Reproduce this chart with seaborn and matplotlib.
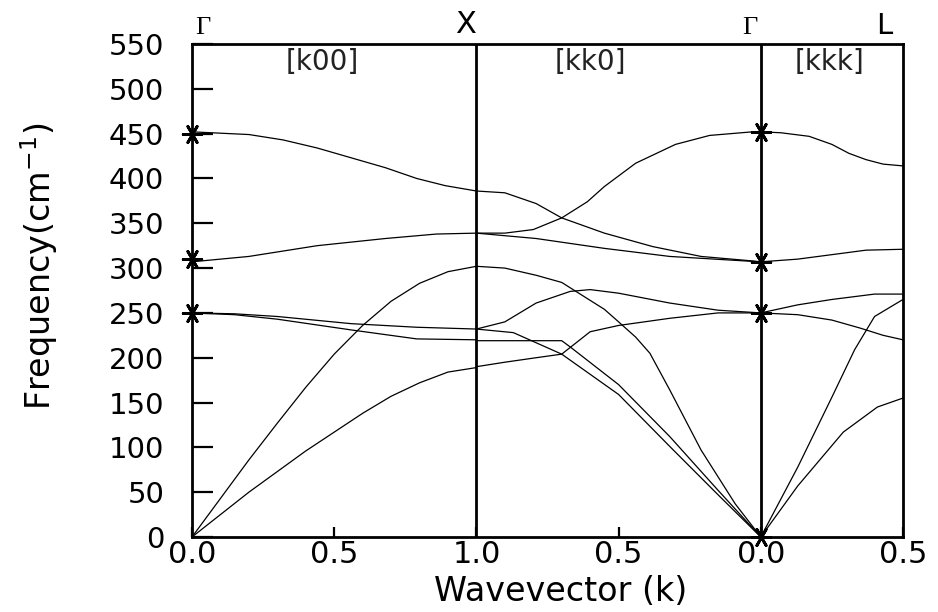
import numpy as np
import pandas as pd
import matplotlib
matplotlib.use("Agg")
import matplotlib.pyplot as plt
import matplotlib.transforms as mtransforms
import seaborn as sns

# ---------------- data ----------------
# Panel 1: Gamma -> X, direction [k00], k from 0 to 1
p1_A_k = [0.0, 0.20, 0.32, 0.44, 0.56, 0.68, 0.79, 0.89, 1.0]
p1_A_f = [452, 449, 443, 434, 423, 412, 400, 392, 386]
p1_B_k = [0.0, 0.20, 0.44, 0.68, 0.86, 1.0]
p1_B_f = [307, 313, 325, 333, 338, 339]
p1_LA_k = [0.0, 0.1, 0.2, 0.3, 0.4, 0.5, 0.6, 0.7, 0.8, 0.9, 1.0]
p1_LA_f = [0, 43, 86, 127, 167, 204, 236, 263, 283, 296, 302]
p1_Cu_k = [0.0, 0.15, 0.30, 0.56, 0.79, 1.0]
p1_Cu_f = [250, 249, 246, 238, 234, 232]
p1_Cl_k = [0.0, 0.15, 0.30, 0.56, 0.79, 1.0]
p1_Cl_f = [250, 248, 243, 231, 221, 220]
p1_TA_k = [0.0, 0.1, 0.2, 0.3, 0.4, 0.5, 0.6, 0.7, 0.8, 0.9, 1.0]
p1_TA_f = [0, 25, 50, 73, 96, 117, 138, 157, 172, 184, 189]

# Panel 2: X -> Gamma, direction [kk0], k from 1 to 0
p2_1_k = [1.0, 0.9, 0.79, 0.70, 0.55, 0.38, 0.21, 0.03, 0.0]
p2_1_f = [386, 384, 372, 356, 339, 324, 313, 308, 307]
p2_2_k = [1.0, 0.9, 0.8, 0.7, 0.61, 0.55, 0.44, 0.30, 0.18, 0.03, 0.0]
p2_2_f = [339, 339, 343, 356, 374, 391, 417, 438, 448, 452, 452]
p2_3_k = [1.0, 0.79, 0.55, 0.32, 0.03, 0.0]
p2_3_f = [339, 333, 322, 313, 307.5, 307]
p2_4_k = [1.0, 0.9, 0.79, 0.70, 0.65, 0.55, 0.50, 0.44, 0.39, 0.32, 0.21, 0.09, 0.0]
p2_4_f = [302, 300, 292, 284, 274, 254, 240, 223, 205, 164, 97, 37, 0]
p2_5_k = [1.0, 0.9, 0.79, 0.67, 0.60, 0.50, 0.32, 0.15, 0.0]
p2_5_f = [232, 240, 261, 274, 276, 272, 261, 253, 250]
p2_6_k = [1.0, 0.87, 0.70, 0.50, 0.32, 0.15, 0.0]
p2_6_f = [232, 228, 204, 159, 101, 47, 0]
p2_7_k = [1.0, 0.70, 0.67, 0.50, 0.32, 0.15, 0.0]
p2_7_f = [219, 219, 212, 170, 112, 52, 0]
p2_8_k = [1.0, 0.9, 0.79, 0.70, 0.60, 0.50, 0.32, 0.15, 0.0]
p2_8_f = [190, 195, 200, 204, 229, 236, 244, 250, 250]

# Panel 3: Gamma -> L, direction [kkk], k from 0 to 0.5
p3_1_k = [0.0, 0.07, 0.17, 0.25, 0.31, 0.37, 0.43, 0.5]
p3_1_f = [452, 451, 447, 438, 428, 421, 416, 414]
p3_2_k = [0.0, 0.13, 0.25, 0.37, 0.5]
p3_2_f = [307, 310, 315, 320, 321]
p3_3_k = [0.0, 0.13, 0.25, 0.40, 0.5]
p3_3_f = [250, 259, 265, 271, 271]
p3_4_k = [0.0, 0.13, 0.25, 0.35, 0.43, 0.5]
p3_4_f = [250, 248, 242, 233, 225, 220]
p3_5_k = [0.0, 0.13, 0.25, 0.33, 0.40, 0.5]
p3_5_f = [0, 78, 156, 209, 246, 265]
p3_6_k = [0.0, 0.13, 0.29, 0.41, 0.5]
p3_6_f = [0, 57, 117, 145, 155]

# Experimental points (stars) at the zone centre
star_panel = ["k00", "k00", "k00", "kk0", "kk0", "kk0", "kk0"]
star_k = [0.0, 0.0, 0.0, 0.0, 0.0, 0.0, 0.0]
star_f = [450, 310, 250, 452, 307, 250, 0]

# Axis labelling
tick_pos = [0.0, 0.5, 1.0, 1.5, 2.0, 2.5]
tick_labels = ["0.0", "0.5", "1.0", "0.5", "0.0", "0.5"]
point_labels = ["\u0393", "X", "\u0393", "L"]
direction_labels = ["[k00]", "[kk0]", "[kkk]"]

# ---------------- build long table ----------------
def to_path(panel, k):
    k = np.asarray(k, dtype=float)
    if panel == "k00":
        return k
    if panel == "kk0":
        return 2.0 - k
    return 2.0 + k

branches = [
    ("k00", "A", p1_A_k, p1_A_f), ("k00", "B", p1_B_k, p1_B_f),
    ("k00", "LA", p1_LA_k, p1_LA_f), ("k00", "Cu", p1_Cu_k, p1_Cu_f),
    ("k00", "Cl", p1_Cl_k, p1_Cl_f), ("k00", "TA", p1_TA_k, p1_TA_f),
    ("kk0", "1", p2_1_k, p2_1_f), ("kk0", "2", p2_2_k, p2_2_f),
    ("kk0", "3", p2_3_k, p2_3_f), ("kk0", "4", p2_4_k, p2_4_f),
    ("kk0", "5", p2_5_k, p2_5_f), ("kk0", "6", p2_6_k, p2_6_f),
    ("kk0", "7", p2_7_k, p2_7_f), ("kk0", "8", p2_8_k, p2_8_f),
    ("kkk", "1", p3_1_k, p3_1_f), ("kkk", "2", p3_2_k, p3_2_f),
    ("kkk", "3", p3_3_k, p3_3_f), ("kkk", "4", p3_4_k, p3_4_f),
    ("kkk", "5", p3_5_k, p3_5_f), ("kkk", "6", p3_6_k, p3_6_f),
]
frames = []
for panel, name, k, f in branches:
    frames.append(pd.DataFrame({"path": to_path(panel, k), "freq": f,
                                "branch": panel + "_" + name}))
df = pd.concat(frames, ignore_index=True)

stars = pd.DataFrame({"path": [float(to_path(p, [kk])[0]) for p, kk in zip(star_panel, star_k)],
                      "freq": star_f})

# ---------------- plot ----------------
sns.set_theme(style="white")
plt.rcParams["font.family"] = ["DejaVu Sans"]
plt.rcParams["mathtext.fontset"] = "dejavusans"

fig = plt.figure(figsize=(9.38, 6.12), dpi=100)
ax = fig.add_axes([192 / 938, 1 - 537 / 612, 711 / 938, 493 / 612])

sns.lineplot(data=df, x="path", y="freq", units="branch", estimator=None,
             sort=False, color="black", linewidth=0.9, ax=ax, legend=False)
sns.scatterplot(data=stars, x="path", y="freq", marker=(6, 2, 90), s=180,
                color="black", edgecolor="black", linewidth=2.0, ax=ax,
                legend=False, zorder=5, clip_on=False)

for xv in (1.0, 2.0):
    ax.axvline(xv, color="black", linewidth=2.0, zorder=4)

ax.set_xlim(0, 2.5)
ax.set_ylim(0, 550)
for sp in ax.spines.values():
    sp.set_visible(True)
    sp.set_color("black")
    sp.set_linewidth(2.0)

ax.set_yticks(np.arange(0, 551, 50))
ax.set_xticks(tick_pos)
ax.set_xticklabels(tick_labels)
ax.tick_params(axis="y", direction="in", length=15, width=1.6, pad=20,
               labelsize=21, colors="black", left=True)
ax.tick_params(axis="x", direction="in", length=7, width=1.6, pad=2,
               labelsize=22, colors="black", bottom=True)

ax.set_xlabel("Wavevector (k)", fontsize=24, color="black")
ax.xaxis.set_label_coords(0.518, -0.078)
ax.set_ylabel("Frequency(cm$^{-1}$)", fontsize=24, color="black")
ax.yaxis.set_label_coords(-0.186, 0.55)

trans = mtransforms.blended_transform_factory(ax.transData, ax.transAxes)
serif = ["Liberation Serif", "DejaVu Serif"]
ax.text(0.039, 1.02, point_labels[0], transform=trans, ha="center", va="baseline",
        fontsize=19, family=serif, color="black")
ax.text(0.963, 1.022, point_labels[1], transform=trans, ha="center", va="baseline",
        fontsize=22, color="black")
ax.text(1.962, 1.02, point_labels[2], transform=trans, ha="center", va="baseline",
        fontsize=19, family=serif, color="black")
ax.text(2.433, 1.02, point_labels[3], transform=trans, ha="center", va="baseline",
        fontsize=21, color="black")

for xc, lab in zip([0.457, 1.399, 2.24], direction_labels):
    ax.text(xc, 0.9635, lab, transform=trans, ha="center", va="center",
            fontsize=20, color="#222222")

fig.savefig("out.png", dpi=100, facecolor="white")
